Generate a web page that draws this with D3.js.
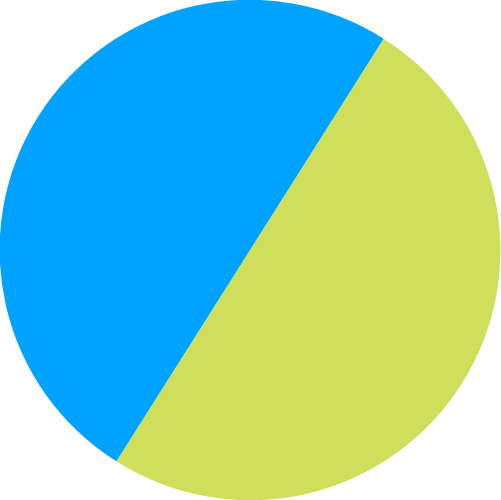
<!DOCTYPE html>
<html>
<head>
<meta charset="utf-8">
<script src="https://cdn.jsdelivr.net/npm/d3@7"></script>
<style>
  html, body { margin: 0; padding: 0; background: #fff; }
</style>
</head>
<body>
<div id="chart"></div>
<script>
// slice data
var labels = ["A", "B"];
var values = [50, 50];
var colors = ["#cfdf5b", "#00a2ff"];

var width = 501,
    height = 500,
    radius = 250;

var svg = d3.select("#chart")
  .append("svg")
  .attr("width", width)
  .attr("height", height)
  .append("g")
  .attr("transform", "translate(250,250)");

var color = d3.scaleOrdinal()
  .domain(labels)
  .range(colors);

// first slice starts a bit past 12 o'clock
var start = 32.3 * Math.PI / 180;
var pie = d3.pie()
  .sort(null)
  .startAngle(start)
  .endAngle(start + 2 * Math.PI)
  .value(function(d, i) { return values[i]; });

var arc = d3.arc()
  .innerRadius(0)
  .outerRadius(radius);

svg.selectAll("path")
  .data(pie(labels))
  .enter().append("path")
    .attr("d", arc)
    .attr("fill", function(d) { return color(d.data); });
</script>
</body>
</html>
